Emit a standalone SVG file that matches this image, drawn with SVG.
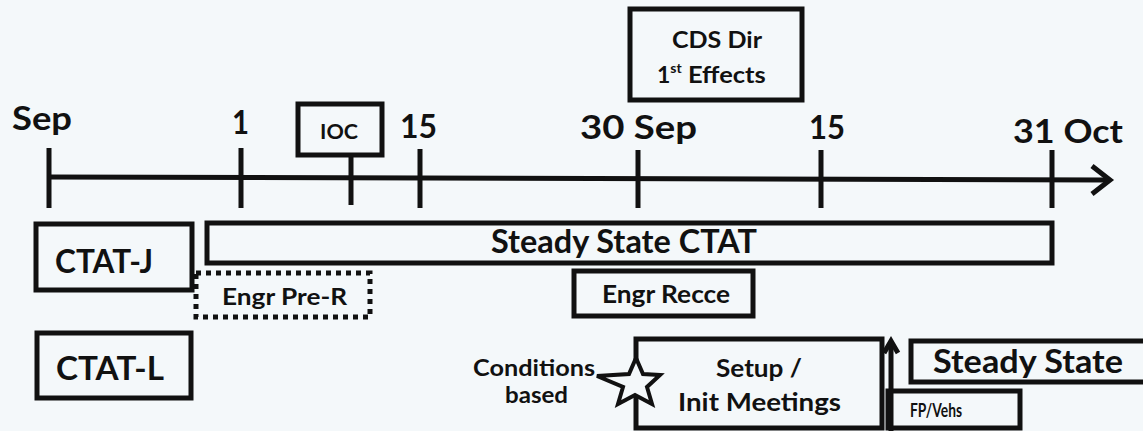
<svg xmlns="http://www.w3.org/2000/svg" width="1143" height="431" viewBox="0 0 1143 431">
<style>
.t{font-family:"Lato","Open Sans","Liberation Sans",sans-serif;font-weight:700;fill:#111}
.box{fill:none;stroke:#111;stroke-width:5}
.ln{stroke:#111;stroke-width:5;fill:none}
</style>
<rect width="1143" height="431" fill="#f4f8fa"/>
<g id="connectors">
<line class="ln" x1="48" y1="177" x2="1108" y2="180"/>
<polyline class="ln" points="1092,166 1110,180 1092,194" stroke-linejoin="miter"/>
<line class="ln" x1="49" y1="148" x2="49" y2="208"/>
<line class="ln" x1="241" y1="148" x2="241" y2="208"/>
<line class="ln" x1="351" y1="155" x2="351" y2="205"/>
<line class="ln" x1="420" y1="149" x2="420" y2="208"/>
<line class="ln" x1="638" y1="150" x2="638" y2="208"/>
<line class="ln" x1="821" y1="150" x2="821" y2="208"/>
<line class="ln" x1="1052" y1="150" x2="1052" y2="208"/>
<line class="ln" x1="891" y1="440" x2="891" y2="342"/>
<polyline class="ln" points="884,353 891,341 898,353" stroke-width="4"/>
</g>
<g id="labels">
<text class="t" x="12" y="130" font-size="32" textLength="60" lengthAdjust="spacingAndGlyphs">Sep</text>
<text class="t" x="232" y="134" font-size="32" textLength="17" lengthAdjust="spacingAndGlyphs">1</text>
<text class="t" x="400" y="138" font-size="32" textLength="37" lengthAdjust="spacingAndGlyphs">15</text>
<text class="t" x="580" y="139" font-size="32" textLength="117" lengthAdjust="spacingAndGlyphs">30 Sep</text>
<text class="t" x="809" y="139" font-size="32" textLength="36" lengthAdjust="spacingAndGlyphs">15</text>
<text class="t" x="1013" y="143" font-size="32" textLength="110" lengthAdjust="spacingAndGlyphs">31 Oct</text>
</g>
<g id="cds">
<rect class="box" x="630" y="9" width="172" height="91"/>
<text class="t" x="672" y="48" font-size="23" textLength="90" lengthAdjust="spacingAndGlyphs">CDS Dir</text>
<text class="t" x="657" y="83" font-size="23">1<tspan font-size="14" dy="-10">st</tspan><tspan dy="10" textLength="84" lengthAdjust="spacingAndGlyphs"> Effects</tspan></text>
</g>
<g id="ioc">
<rect class="box" x="298" y="104" width="84" height="51"/>
<text class="t" x="320" y="139" font-size="21" textLength="38" lengthAdjust="spacingAndGlyphs">IOC</text>
</g>
<g id="ctatj">
<rect class="box" x="36" y="224" width="156" height="66"/>
<text class="t" x="55" y="273" font-size="33" textLength="98" lengthAdjust="spacingAndGlyphs">CTAT-J</text>
</g>
<g id="ctatl">
<rect class="box" x="37" y="333" width="154" height="65"/>
<text class="t" x="56" y="380" font-size="33" textLength="108" lengthAdjust="spacingAndGlyphs">CTAT-L</text>
</g>
<g id="steadyctat">
<rect class="box" x="207" y="223" width="845" height="40"/>
<text class="t" x="491" y="253" font-size="32" textLength="266" lengthAdjust="spacingAndGlyphs">Steady State CTAT</text>
</g>
<g id="engrpre">
<rect class="box" x="196" y="273" width="174" height="44" stroke-dasharray="5 5"/>
<text class="t" x="222" y="305" font-size="22" textLength="125" lengthAdjust="spacingAndGlyphs">Engr Pre-R</text>
</g>
<g id="engrrecce">
<rect class="box" x="574" y="271" width="179" height="45"/>
<text class="t" x="602" y="303" font-size="24" textLength="128" lengthAdjust="spacingAndGlyphs">Engr Recce</text>
</g>
<g id="setup">
<rect class="box" x="636" y="339" width="246" height="89"/>
<text class="t" x="716" y="377" font-size="24" textLength="86" lengthAdjust="spacingAndGlyphs">Setup /</text>
<text class="t" x="678" y="411" font-size="24" textLength="163" lengthAdjust="spacingAndGlyphs">Init Meetings</text>
</g>
<g id="conditions">
<text class="t" x="473" y="376" font-size="22" textLength="122" lengthAdjust="spacingAndGlyphs">Conditions</text>
<text class="t" x="505" y="403" font-size="22" textLength="63" lengthAdjust="spacingAndGlyphs">based</text>
<polygon points="636,358 643,374 660,375 647,387 652,404 635,395 618,404 623,387 597,376 629,374" fill="#f4f8fa" stroke="#111" stroke-width="4" stroke-linejoin="miter"/>
</g>
<g id="fpvehs">
<rect class="box" x="888" y="391" width="132" height="37"/>
<text class="t" x="910" y="417" font-size="18" textLength="52" lengthAdjust="spacingAndGlyphs">FP/Vehs</text>
</g>
<g id="steadystate">
<rect class="box" x="911" y="341" width="240" height="41"/>
<text class="t" x="933" y="373" font-size="32" textLength="190" lengthAdjust="spacingAndGlyphs">Steady State</text>
</g>
</svg>
